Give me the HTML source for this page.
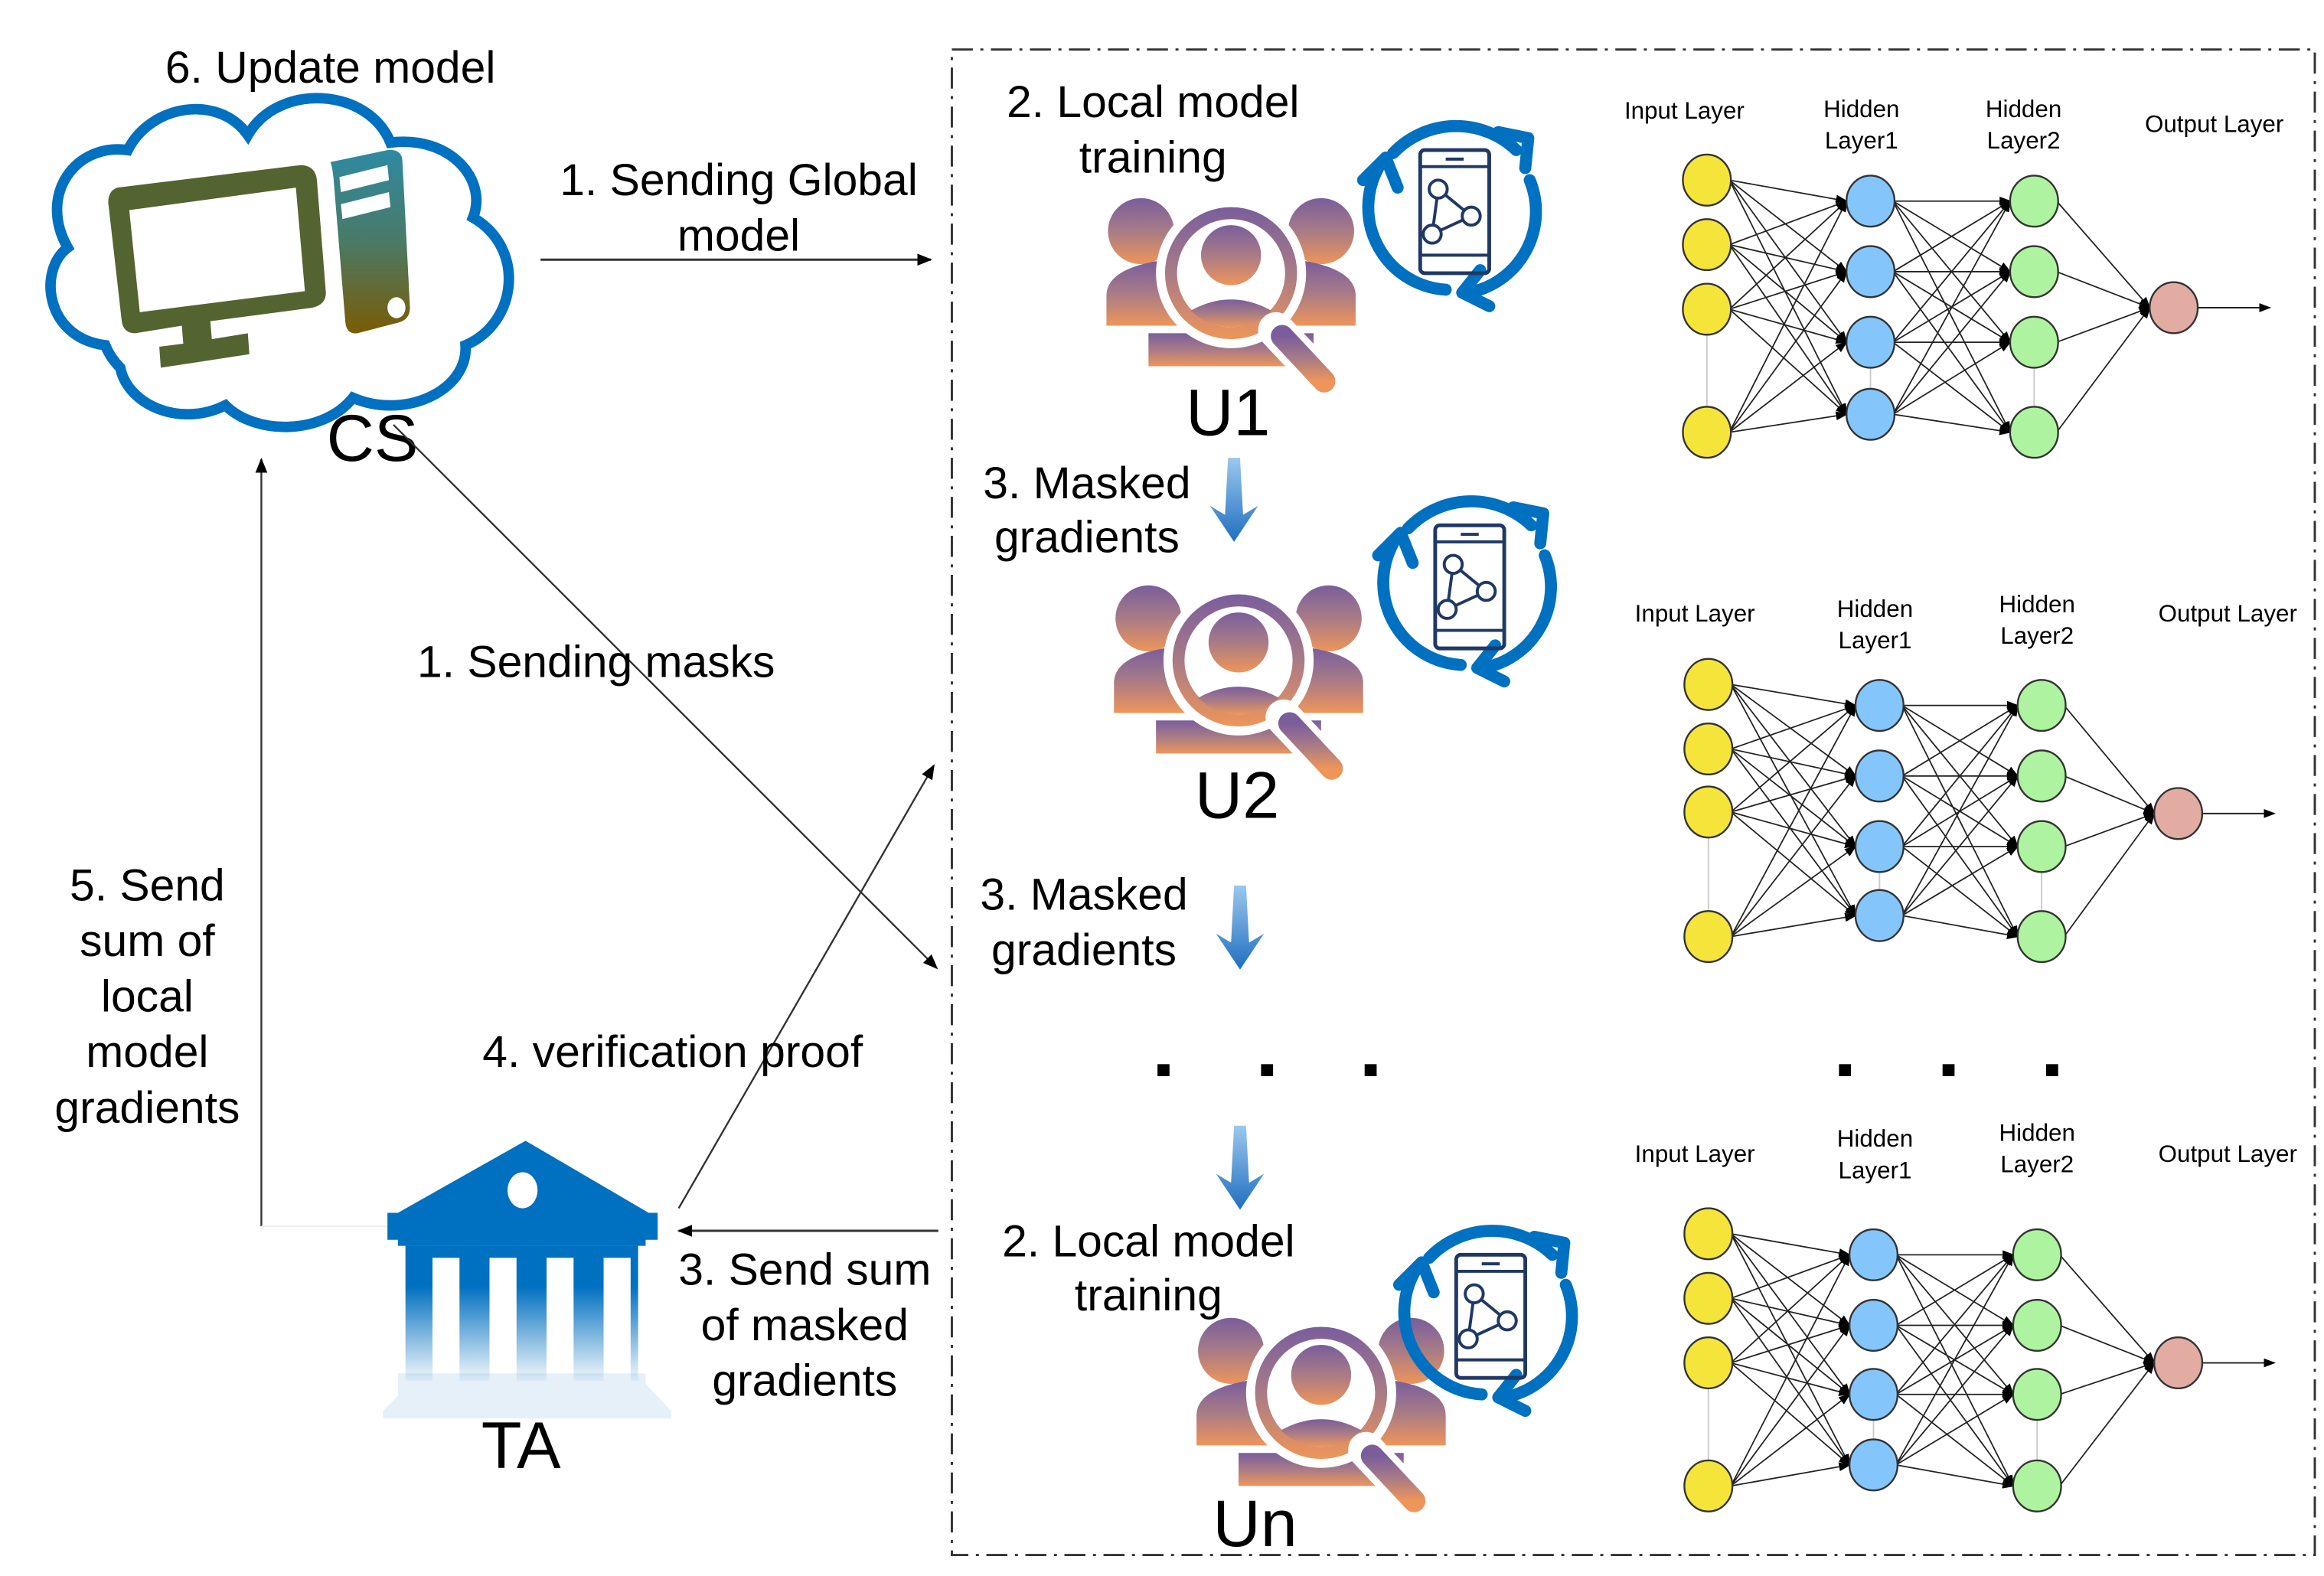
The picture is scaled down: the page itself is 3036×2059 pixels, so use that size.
<!DOCTYPE html>
<html><head><meta charset="utf-8"><style>
html,body{margin:0;padding:0;background:#fff;}
svg{display:block;}
text{font-family:"Liberation Sans Narrow","Liberation Sans",sans-serif;fill:#000;}
.t{font-size:30px;text-anchor:middle;}
.s{font-size:16px;text-anchor:middle;font-family:"Liberation Sans Narrow","Liberation Sans",sans-serif;}
.big{font-size:44px;text-anchor:middle;font-family:"Liberation Sans",sans-serif;}
</style></head><body>
<svg id="svg" width="3036" height="2059" viewBox="0 0 1548 1050" xmlns="http://www.w3.org/2000/svg">
<defs>
<marker id="ah" markerWidth="10" markerHeight="8" refX="9" refY="4" orient="auto" markerUnits="userSpaceOnUse"><path d="M0,0 L10,4 L0,8 z" fill="#000"/></marker>
<marker id="sa" markerWidth="8" markerHeight="6" refX="7" refY="3" orient="auto" markerUnits="userSpaceOnUse"><path d="M0,0 L8,3 L0,6 z" fill="#000"/></marker>
<linearGradient id="tower" x1="0" y1="0" x2="0" y2="1"><stop offset="0" stop-color="#2e8aa3"/><stop offset="0.5" stop-color="#4a7a66"/><stop offset="1" stop-color="#7a5c05"/></linearGradient>
<linearGradient id="user" x1="0" y1="0" x2="0" y2="1"><stop offset="0" stop-color="#7a5e9c"/><stop offset="0.5" stop-color="#a87b86"/><stop offset="1" stop-color="#ee955a"/></linearGradient>
<linearGradient id="bank" x1="0" y1="0" x2="0" y2="1"><stop offset="0.3" stop-color="#0070c0"/><stop offset="1" stop-color="#0070c0" stop-opacity="0.05"/></linearGradient>
<linearGradient id="barr" x1="0" y1="0" x2="0" y2="1"><stop offset="0" stop-color="#9cc8ee"/><stop offset="1" stop-color="#1f6fc0"/></linearGradient>
<g id="users">
 <circle cx="-60" cy="-38" r="22" fill="url(#user)"/>
 <circle cx="60" cy="-38" r="22" fill="url(#user)"/>
 <path d="M-83,25 L-83,5 Q-83,-12 -50,-18 L50,-18 Q83,-12 83,5 L83,25 Z" fill="url(#user)"/>
 <path d="M-55,52 L-55,30 L55,30 L55,52 Z" fill="url(#user)"/>
 <circle cx="0" cy="-10" r="50" fill="#fff"/>
 <circle cx="0" cy="-10" r="44" fill="url(#user)"/>
 <circle cx="0" cy="-10" r="36" fill="#fff"/>
 <circle cx="0" cy="-22" r="20" fill="url(#user)"/>
 <path d="M-27,15 Q0,0 27,15 Q15,26 0,26 Q-15,26 -27,15Z" fill="url(#user)"/>
 <line x1="30" y1="28" x2="62" y2="62" stroke="#fff" stroke-width="24" stroke-linecap="round"/>
 <line x1="34" y1="32" x2="62" y2="62" stroke="url(#user)" stroke-width="15" stroke-linecap="round"/>
</g>
<g id="sync" fill="none">
 <path d="M-40,-38 A58,58 0 0 1 42,-40" stroke="#0070c0" stroke-width="8" stroke-linecap="round"/>
 <path d="M30,-52 L50,-48 L48,-28" stroke="#0070c0" stroke-width="8" stroke-linecap="round" stroke-linejoin="round"/>
 <path d="M51,-20 A55,55 0 0 1 10,55" stroke="#0070c0" stroke-width="8" stroke-linecap="round"/>
 <path d="M24,64 L6,55 L18,40" stroke="#0070c0" stroke-width="8" stroke-linecap="round" stroke-linejoin="round"/>
 <path d="M-5,53 A55,55 0 0 1 -50,-28" stroke="#0070c0" stroke-width="8" stroke-linecap="round"/>
 <path d="M-60,-20 L-45,-35 L-37,-15" stroke="#0070c0" stroke-width="8" stroke-linecap="round" stroke-linejoin="round"/>
 <rect x="-22" y="-40" width="46" height="82" rx="3" stroke="#203864" stroke-width="2.5"/>
 <line x1="-22" y1="-29" x2="24" y2="-29" stroke="#203864" stroke-width="2"/>
 <line x1="-22" y1="30" x2="24" y2="30" stroke="#203864" stroke-width="2"/>
 <line x1="-5" y1="-34" x2="7" y2="-34" stroke="#203864" stroke-width="2"/>
 <path d="M-10,-14 L-14,16 L12,4 Z" stroke="#203864" stroke-width="2"/>
 <circle cx="-10" cy="-14" r="6" fill="#fff" stroke="#203864" stroke-width="2"/>
 <circle cx="12" cy="4" r="6" fill="#fff" stroke="#203864" stroke-width="2"/>
 <circle cx="-14" cy="16" r="6" fill="#fff" stroke="#203864" stroke-width="2"/>
</g>
<g id="darr"><path d="M-4,0 L4,0 L6,38 L16,32 L0,56 L-16,32 L-6,38 Z" fill="url(#barr)"/></g>
</defs>

<!-- dashed box -->
<rect x="634" y="33" width="908" height="1003" fill="none" stroke="#333" stroke-width="1.5" stroke-dasharray="14,5,2,5"/>

<!-- cloud -->
<path d="M70,230 C30,225 25,180 45,165 C25,130 50,95 85,100 C100,70 145,62 165,90 C185,55 245,58 260,95 C300,90 325,120 315,145 C350,165 345,215 310,230 C312,260 270,280 235,265 C215,290 170,290 150,270 C120,285 85,270 80,245 C75,240 72,235 70,230 Z" fill="#fff" stroke="#0070c0" stroke-width="7"/>
<!-- monitor -->
<path d="M78,125 L200,110 Q210,110 211,120 L217,195 Q217,203 208,205 L140,214 L141,226 L165,222 L166,236 L107,245 L106,231 L122,229 L121,217 L90,222 Q82,222 81,214 L72,135 Q72,127 78,125 Z" fill="#536430"/>
<path d="M86,140 L197,125 L203,194 L93,208 Z" fill="#fff"/>
<!-- tower -->
<path d="M220,108 L258,100 Q268,99 268,108 L273,205 Q273,213 265,215 L238,222 Q231,223 230,215 L222,118 Q221,110 220,108 Z" fill="url(#tower)"/>
<path d="M226,118 L258,110 L259,120 L227,128 Z" fill="#fff"/>
<path d="M227,136 L259,128 L260,138 L228,146 Z" fill="#fff"/>
<ellipse cx="264" cy="205" rx="6" ry="7" fill="#fff"/>

<text class="t" x="220" y="55">6. Update model</text>
<text class="big" x="248" y="307">CS</text>

<!-- connectors -->
<line x1="360" y1="173" x2="620" y2="173" stroke="#333" stroke-width="1.5" marker-end="url(#ah)"/>
<text class="t" x="492" y="130">1. Sending Global</text>
<text class="t" x="492" y="167">model</text>
<line x1="262" y1="283" x2="624" y2="645" stroke="#333" stroke-width="1.2" marker-end="url(#ah)"/>
<text class="t" x="397" y="451">1. Sending masks</text>
<line x1="452" y1="805" x2="622" y2="510" stroke="#333" stroke-width="1.2" marker-end="url(#ah)"/>
<text class="t" x="448" y="711">4. verification proof</text>
<line x1="174" y1="817" x2="174" y2="306" stroke="#333" stroke-width="1.2" marker-end="url(#ah)"/>
<line x1="174" y1="817" x2="262" y2="817" stroke="#eee" stroke-width="1"/>
<text class="t" x="98" y="600">5. Send</text>
<text class="t" x="98" y="637">sum of</text>
<text class="t" x="98" y="674">local</text>
<text class="t" x="98" y="711">model</text>
<text class="t" x="98" y="748">gradients</text>
<line x1="625" y1="820" x2="452" y2="820" stroke="#333" stroke-width="1.5" marker-end="url(#ah)"/>
<text class="t" x="536" y="856">3. Send sum</text>
<text class="t" x="536" y="893">of masked</text>
<text class="t" x="536" y="930">gradients</text>

<!-- TA building -->
<path d="M350,760 L432,808 L438,808 L438,826 L430,826 L430,830 L265,830 L265,826 L258,826 L258,808 L265,808 Z" fill="#0070c0"/>
<ellipse cx="348" cy="793" rx="10" ry="12" fill="#fff"/>
<rect x="270" y="830" width="155" height="90" fill="url(#bank)"/>
<rect x="288" y="838" width="18" height="82" fill="#fff"/>
<rect x="326" y="838" width="18" height="82" fill="#fff"/>
<rect x="364" y="838" width="18" height="82" fill="#fff"/>
<rect x="402" y="838" width="18" height="82" fill="#fff"/>
<path d="M265,915 L430,915 L430,922 L447,940 L447,945 L255,945 L255,940 L265,930 Z" fill="#0070c0" fill-opacity="0.1"/>
<text class="big" x="347" y="978">TA</text>

<!-- users -->
<use href="#users" x="820" y="192"/>
<use href="#users" x="825" y="450"/>
<use href="#users" x="880" y="938"/>
<use href="#sync" x="968" y="140"/>
<use href="#sync" x="978" y="390"/>
<use href="#sync" x="992" y="876"/>
<text class="big" x="818" y="290">U1</text>
<text class="big" x="824" y="545">U2</text>
<text class="big" x="836" y="1030">Un</text>
<text class="t" x="768" y="78">2. Local model</text>
<text class="t" x="768" y="115">training</text>
<text class="t" x="724" y="332">3. Masked</text>
<text class="t" x="724" y="368">gradients</text>
<use href="#darr" x="822" y="305"/>
<text class="t" x="722" y="606">3. Masked</text>
<text class="t" x="722" y="643">gradients</text>
<use href="#darr" x="826" y="590"/>
<use href="#darr" x="826" y="750"/>
<text class="t" x="765" y="837">2. Local model</text>
<text class="t" x="765" y="873">training</text>
<g fill="#000"><rect x="771" y="709" width="8" height="8"/><rect x="840" y="709" width="8" height="8"/><rect x="909" y="709" width="8" height="8"/><rect x="1225" y="709" width="8" height="8"/><rect x="1294" y="709" width="8" height="8"/><rect x="1363" y="709" width="8" height="8"/></g>

<!-- NN labels -->
<text class="s" x="1122" y="79">Input Layer</text>
<text class="s" x="1240" y="78">Hidden</text><text class="s" x="1240" y="99">Layer1</text>
<text class="s" x="1348" y="78">Hidden</text><text class="s" x="1348" y="99">Layer2</text>
<text class="s" x="1475" y="88">Output Layer</text>
<text class="s" x="1129" y="414">Input Layer</text>
<text class="s" x="1249" y="411">Hidden</text><text class="s" x="1249" y="432">Layer1</text>
<text class="s" x="1357" y="408">Hidden</text><text class="s" x="1357" y="429">Layer2</text>
<text class="s" x="1484" y="414">Output Layer</text>
<text class="s" x="1129" y="774">Input Layer</text>
<text class="s" x="1249" y="764">Hidden</text><text class="s" x="1249" y="785">Layer1</text>
<text class="s" x="1357" y="760">Hidden</text><text class="s" x="1357" y="781">Layer2</text>
<text class="s" x="1484" y="774">Output Layer</text>
<g id="nns"></g>
</svg>
<script>
(function(){
var ns="http://www.w3.org/2000/svg",g=document.getElementById("nns");
function el(n,a){var e=document.createElementNS(ns,n);for(var k in a)e.setAttribute(k,a[k]);g.appendChild(e);return e;}
var nets=[
 {ix:1137,iy:[120,163,206,288],hx:1246,hy:[134,181,228,276],gx:1355,gy:[134,181,228,288],ox:1448,oy:205},
 {ix:1138,iy:[456,499,541,624],hx:1252,hy:[470,517,564,610],gx:1360,gy:[470,517,564,624],ox:1451,oy:542},
 {ix:1138,iy:[822,865,908,990],hx:1248,hy:[836,883,929,976],gx:1357,gy:[836,883,929,990],ox:1451,oy:908}];
var rx=16,ry=17;
nets.forEach(function(n){
 el("line",{x1:n.ix,y1:n.iy[2]+ry,x2:n.ix,y2:n.iy[3]-ry,stroke:"#ccc","stroke-width":1});
 el("line",{x1:n.hx,y1:n.hy[2]+ry,x2:n.hx,y2:n.hy[3]-ry,stroke:"#ccc","stroke-width":1});
 el("line",{x1:n.gx,y1:n.gy[2]+ry,x2:n.gx,y2:n.gy[3]-ry,stroke:"#ccc","stroke-width":1});
 function conn(x1,ys1,x2,ys2){ys1.forEach(function(a){ys2.forEach(function(b){
   el("line",{x1:x1+rx-1,y1:a,x2:x2-rx,y2:b,stroke:"#222","stroke-width":0.9,"marker-end":"url(#sa)"});});});}
 conn(n.ix,n.iy,n.hx,n.hy);conn(n.hx,n.hy,n.gx,n.gy);conn(n.gx,n.gy,n.ox,[n.oy]);
 el("line",{x1:n.ox+rx,y1:n.oy,x2:n.ox+64,y2:n.oy,stroke:"#222","stroke-width":1,"marker-end":"url(#sa)"});
 n.iy.forEach(function(y){el("ellipse",{cx:n.ix,cy:y,rx:rx,ry:ry,fill:"#f5e53a",stroke:"#333","stroke-width":1.2});});
 n.hy.forEach(function(y){el("ellipse",{cx:n.hx,cy:y,rx:rx,ry:ry,fill:"#84c6fb",stroke:"#333","stroke-width":1.2});});
 n.gy.forEach(function(y){el("ellipse",{cx:n.gx,cy:y,rx:rx,ry:ry,fill:"#aef39f",stroke:"#333","stroke-width":1.2});});
 el("ellipse",{cx:n.ox,cy:n.oy,rx:rx,ry:ry,fill:"#e2aca3",stroke:"#333","stroke-width":1.2});
});
})();
</script>
</body></html>
